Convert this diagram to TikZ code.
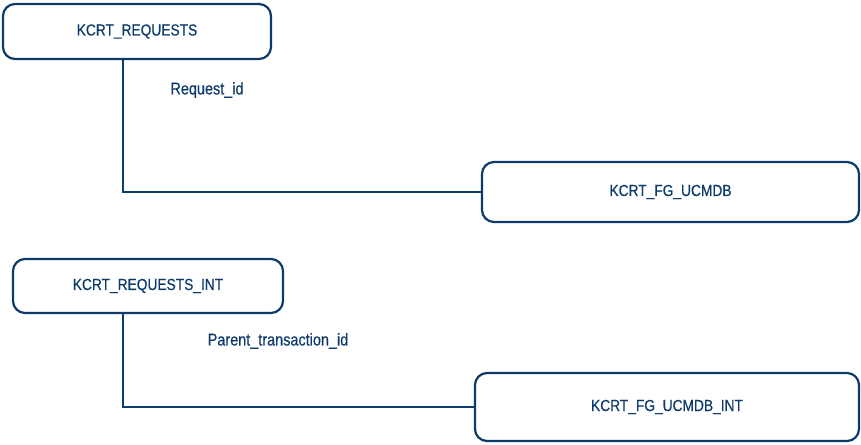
\documentclass[tikz,border=0pt]{standalone}
\usepackage{fontspec}
\setmainfont{Liberation Sans}[FakeStretch=0.86,FakeBold=0.4]
\newfontfamily\lblfont{Liberation Sans}[FakeStretch=0.85,FakeBold=0.4]
\definecolor{navy}{HTML}{0B3A6B}
\begin{document}
\begin{tikzpicture}[x=1pt,y=-1pt,
  tbl/.style={draw=navy, line width=2.2pt, rounded corners=12pt, text=navy,
    font=\fontsize{16}{19}\selectfont, inner sep=0pt},
  conn/.style={draw=navy, line width=1.2pt},
  lbl/.style={text=navy, font=\lblfont\fontsize{17}{20}\selectfont, inner sep=0pt}]
\useasboundingbox (0,0) rectangle (861,444);
\node[tbl, minimum width=268pt, minimum height=55pt] (b1) at (137,31.5) {KCRT\_REQUESTS};
\node[tbl, minimum width=377pt, minimum height=60pt] (b2) at (670.5,192) {KCRT\_FG\_UCMDB};
\node[tbl, minimum width=270pt, minimum height=54pt] (b3) at (148,286) {KCRT\_REQUESTS\_INT};
\node[tbl, minimum width=384pt, minimum height=68pt] (b4) at (667,407) {KCRT\_FG\_UCMDB\_INT};
\coordinate (c1) at (123,0);
\coordinate (c2) at (123,0);
\draw[conn] (b1.south -| c1) |- (b2.west);
\draw[conn] (b3.south -| c2) |- (b4.west);
\node[lbl] (l1) at (207,90) {Request\_id};
\node[lbl] (l2) at (278,341) {Parent\_transaction\_id};
\end{tikzpicture}
\end{document}
